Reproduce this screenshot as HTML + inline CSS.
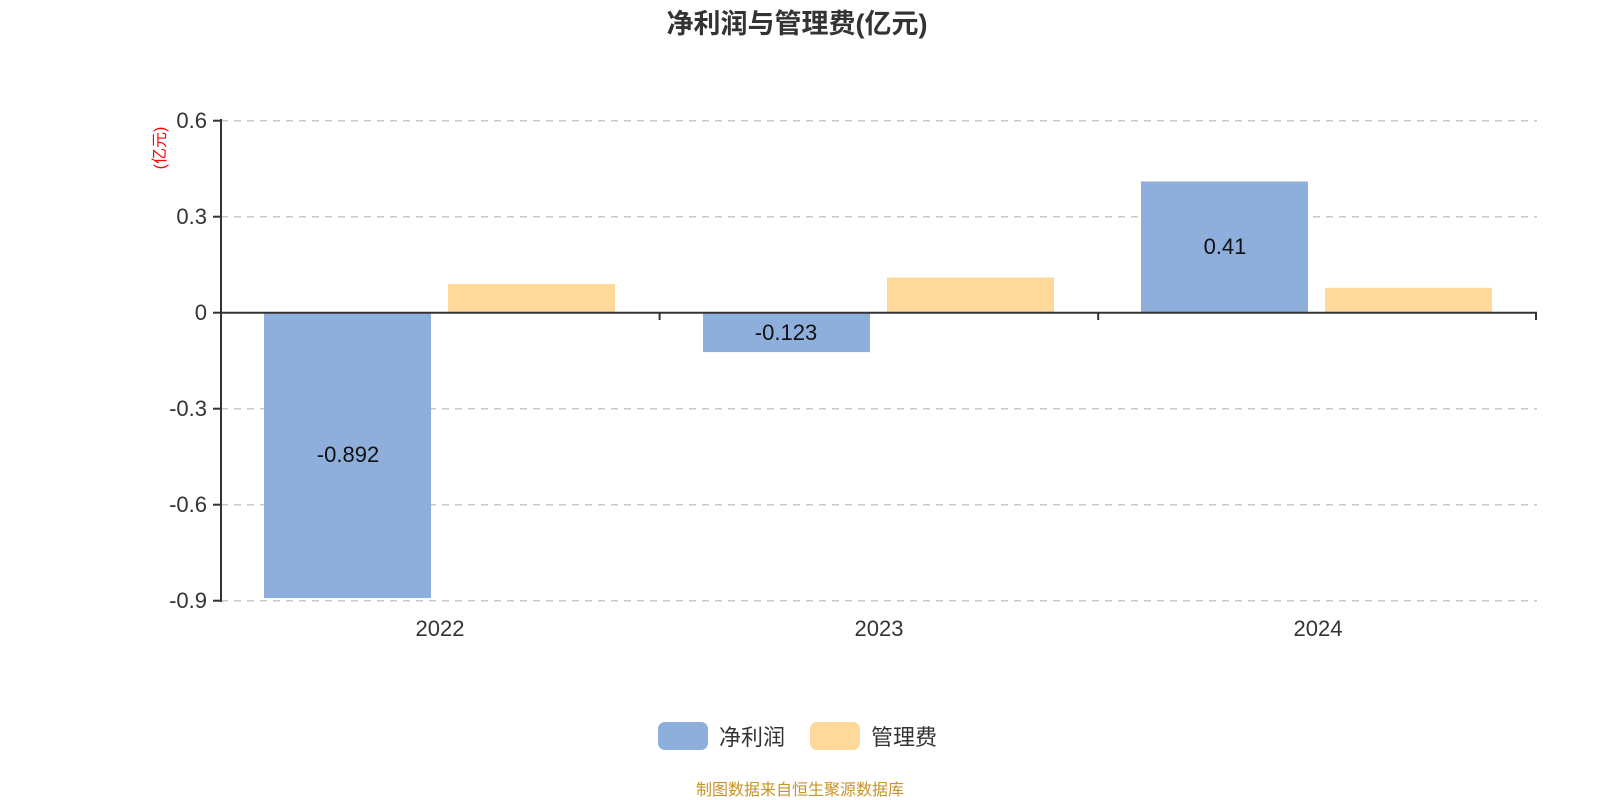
<!DOCTYPE html>
<html><head><meta charset="utf-8"><style>
html,body{margin:0;padding:0;background:#fff;}
svg{display:block;font-family:"Liberation Sans","Noto Sans CJK SC",sans-serif;}
</style></head><body>
<svg width="1600" height="800" viewBox="0 0 1600 800" xmlns="http://www.w3.org/2000/svg">
<text x="797" y="33" text-anchor="middle" font-size="27" font-weight="bold" fill="#333">净利润与管理费(亿元)</text>
<text transform="translate(165,148) rotate(-90)" text-anchor="middle" font-size="16" fill="#ff0000">(亿元)</text>
<g stroke="#c8c8c8" stroke-width="1.5" stroke-dasharray="7,6">
<line x1="221" y1="120.7" x2="1537" y2="120.7"/>
<line x1="221" y1="216.7" x2="1537" y2="216.7"/>
<line x1="221" y1="408.7" x2="1537" y2="408.7"/>
<line x1="221" y1="504.7" x2="1537" y2="504.7"/>
<line x1="221" y1="600.7" x2="1537" y2="600.7"/>
</g>
<g fill="#8eaedb">
<rect x="264" y="312.7" width="167" height="285.4"/>
<rect x="703" y="312.7" width="167" height="39.4"/>
<rect x="1141" y="181.5" width="167" height="131.2"/>
</g>
<g fill="#ffd999">
<rect x="448" y="284" width="167" height="28.7"/>
<rect x="887" y="277.5" width="167" height="35.2"/>
<rect x="1325" y="287.8" width="167" height="24.9"/>
</g>
<g stroke="#333" stroke-width="2">
<line x1="221" y1="119" x2="221" y2="602"/>
<line x1="220" y1="312.7" x2="1537" y2="312.7"/>
<line x1="213" y1="120.7" x2="221" y2="120.7"/>
<line x1="213" y1="216.7" x2="221" y2="216.7"/>
<line x1="213" y1="312.7" x2="221" y2="312.7"/>
<line x1="213" y1="408.7" x2="221" y2="408.7"/>
<line x1="213" y1="504.7" x2="221" y2="504.7"/>
<line x1="213" y1="600.7" x2="221" y2="600.7"/>
<line x1="659.6" y1="312.7" x2="659.6" y2="320"/>
<line x1="1098.2" y1="312.7" x2="1098.2" y2="320"/>
<line x1="1536" y1="312.7" x2="1536" y2="320"/>
</g>
<g font-size="22" fill="#333" text-anchor="end">
<text x="207" y="128">0.6</text>
<text x="207" y="224">0.3</text>
<text x="207" y="320">0</text>
<text x="207" y="416">-0.3</text>
<text x="207" y="512">-0.6</text>
<text x="207" y="608">-0.9</text>
</g>
<g font-size="22" fill="#333" text-anchor="middle">
<text x="440" y="636">2022</text>
<text x="879" y="636">2023</text>
<text x="1318" y="636">2024</text>
</g>
<g font-size="22" fill="#111" text-anchor="middle">
<text x="348" y="462">-0.892</text>
<text x="786" y="340">-0.123</text>
<text x="1225" y="254">0.41</text>
</g>
<rect x="658" y="722" width="50" height="28" rx="7" fill="#8eaedb"/>
<text x="719" y="745" font-size="22" fill="#333">净利润</text>
<rect x="810" y="722" width="50" height="28" rx="7" fill="#ffd999"/>
<text x="871" y="745" font-size="22" fill="#333">管理费</text>
<text x="800" y="795" text-anchor="middle" font-size="16" fill="#c8932a">制图数据来自恒生聚源数据库</text>
</svg>
</body></html>
